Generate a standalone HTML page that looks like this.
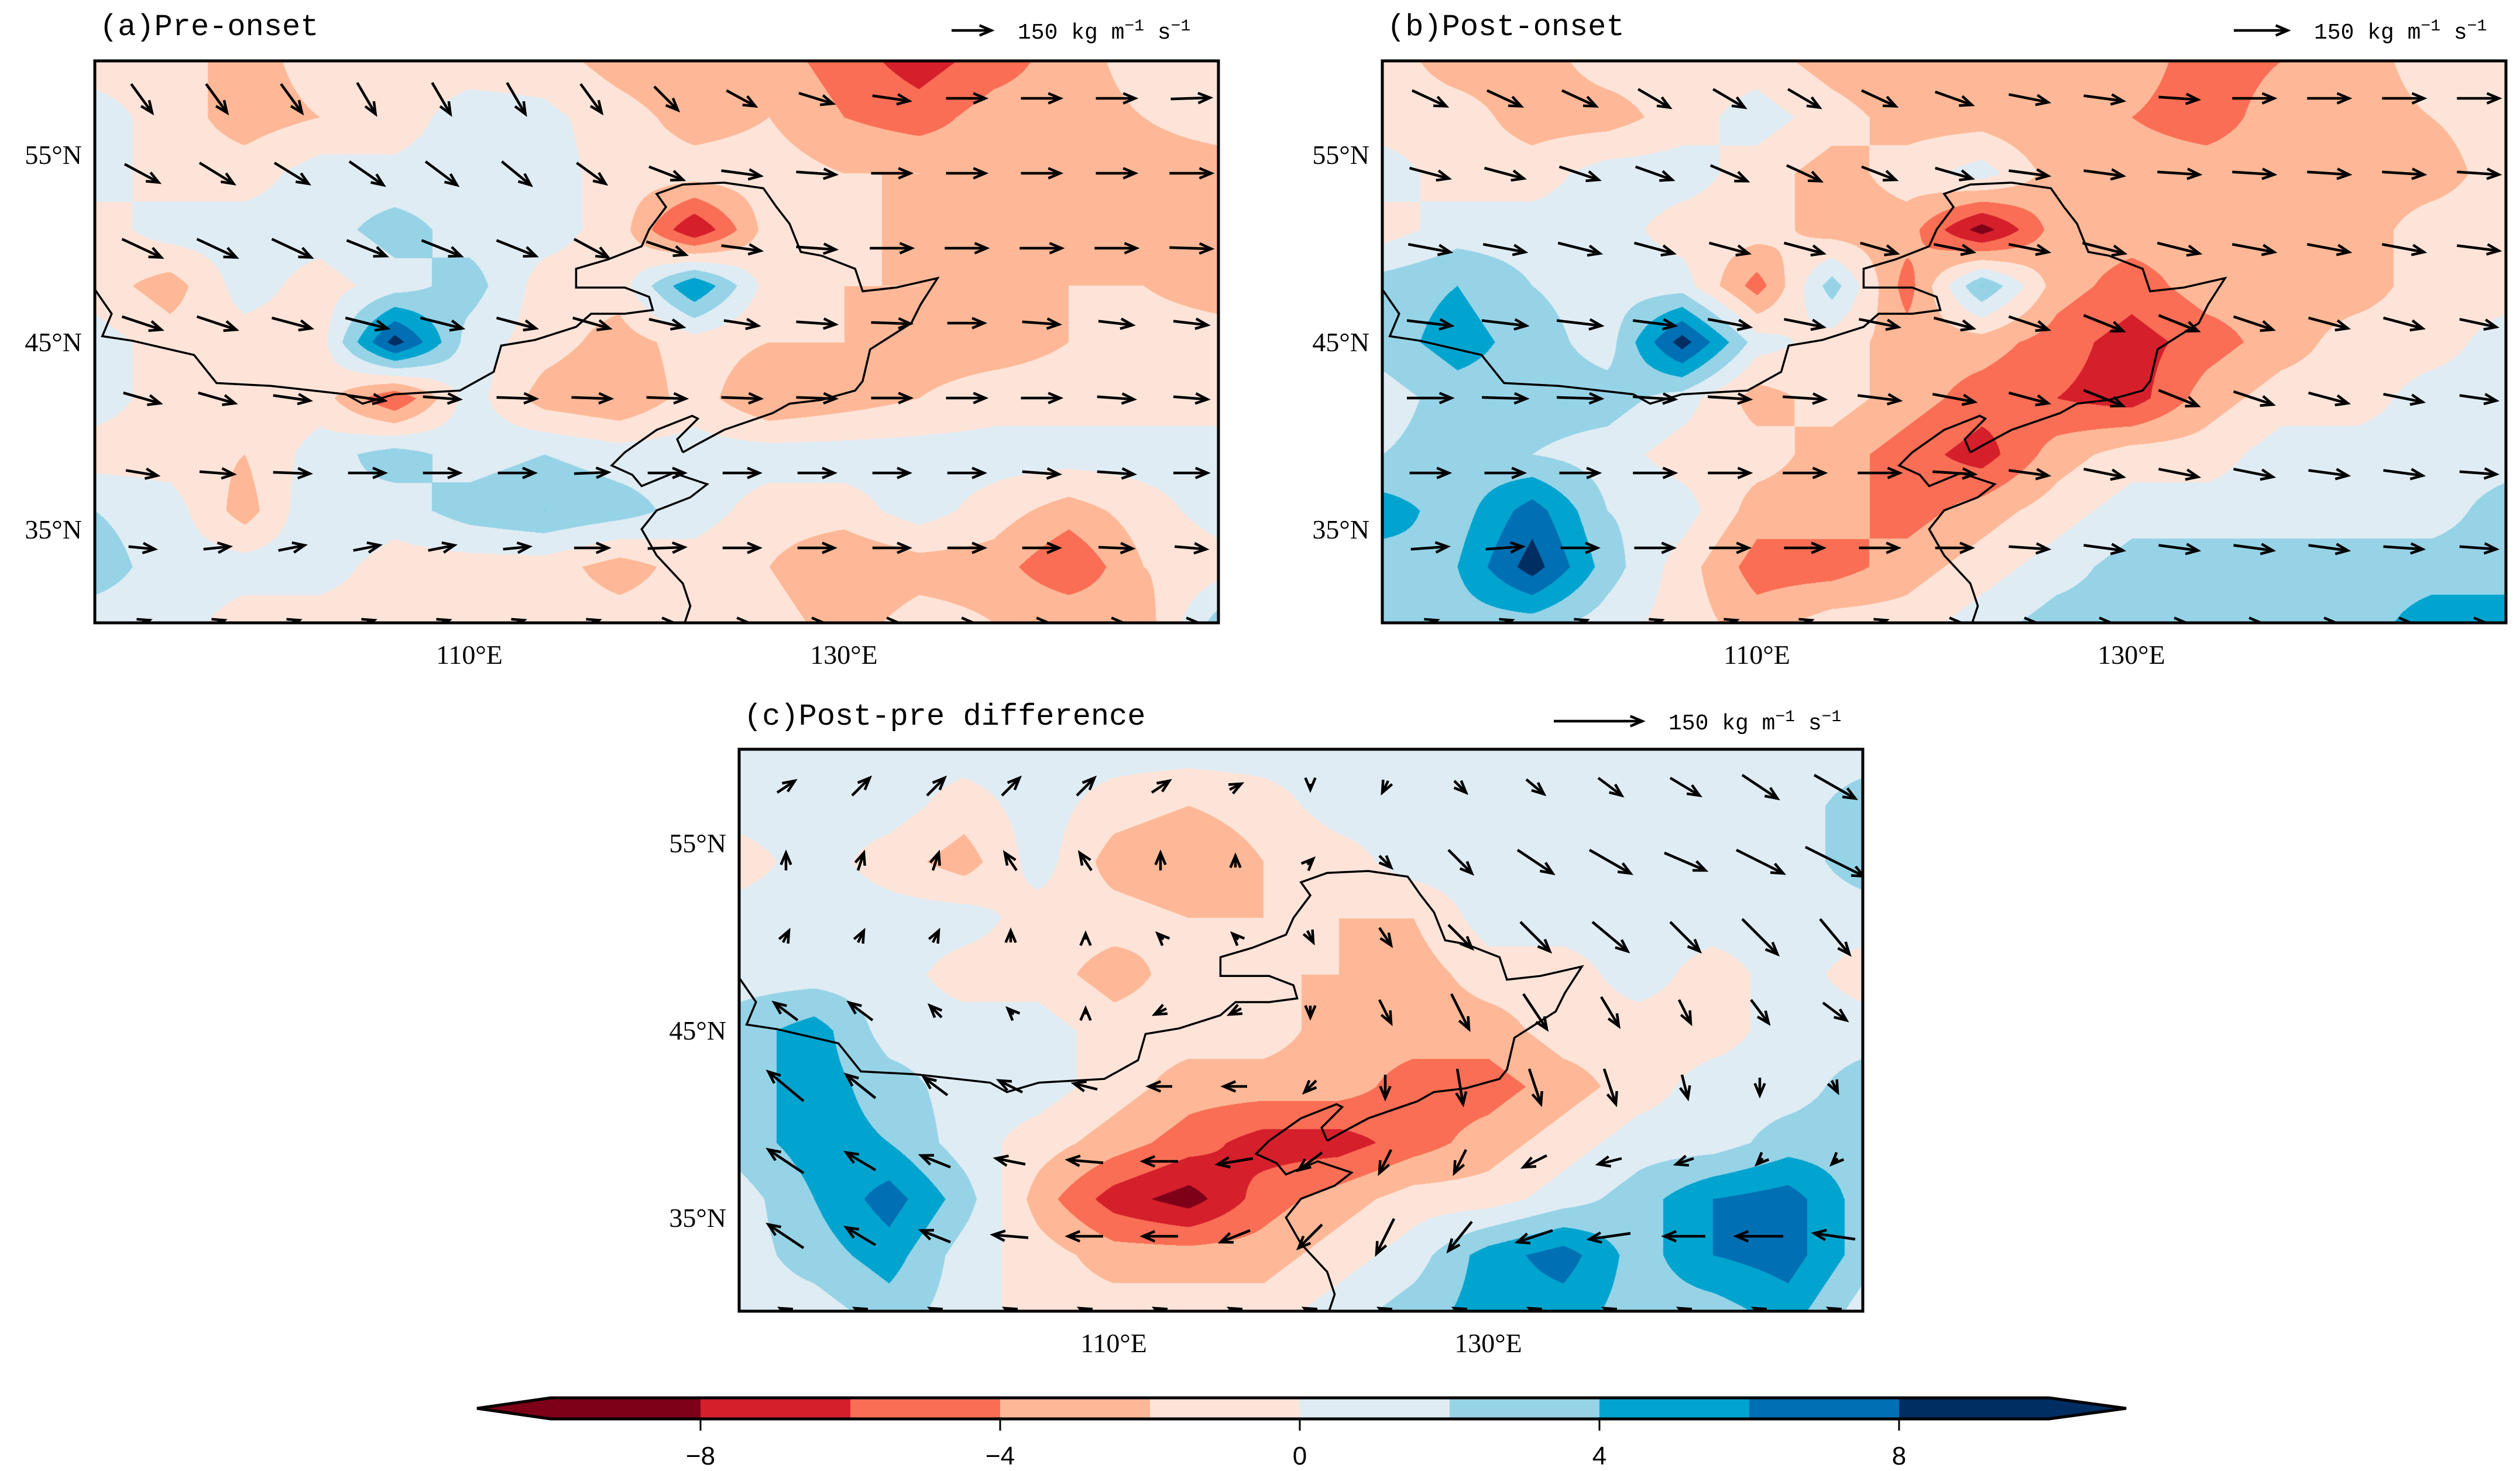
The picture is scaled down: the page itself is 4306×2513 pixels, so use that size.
<!DOCTYPE html>
<html><head><meta charset="utf-8">
<style>
html,body{margin:0;padding:0;background:#fff;}
#wrap{position:relative;width:4306px;height:2513px;overflow:hidden;background:#fff;}
canvas{position:absolute;}
svg{position:absolute;left:0;top:0;}
</style></head>
<body>
<div id="wrap">
<canvas id="cvA" width="1920" height="960" style="left:162px;top:104px"></canvas>
<canvas id="cvB" width="1920" height="960" style="left:2362px;top:104px"></canvas>
<canvas id="cvC" width="1920" height="960" style="left:1263px;top:1280px"></canvas>
<svg id="sv" width="4306" height="2513" xmlns="http://www.w3.org/2000/svg"></svg>
</div>
<script>
// ---------- data ----------
const gridLon=[90,94,98,102,106,110,114,118,122,126,130,134,138,142,146,150];
const gridLat=[60,57,54,51,48,45,42,39,36,33,30];
const fieldA=[
[-1,-1,-3,-1,-1,-1,-1,-3,-4,-3,-5,-7,-5,-3,-1,-1],
[1,-1,-3,-2,-1,1,0.5,-1,-3,-2,-4,-5,-3,-3,-2,-1],
[1,-1,-1,1,0.5,1,1,-1,-1,-1,-2,-2,-3,-3,-3,-3],
[-1,1,1,1,3,1,1,-1,-8,-1,-1,-3,-3,-3,-3,-3],
[-1,-3,1,-1,1,3,-1,-1,6,-1,-2,-2,-3,-2,-2,-3],
[1,-1,-1,-1,9,1,-1,-3,-1,-2,-2,-3,-3,-2,-1,-1],
[1,-1,-2,-1,-6,1,-3,-4,-1,-4,-3,-2,-1,-1,-1,-1],
[-1,-1,-2,1,3,1,2,1,1,1,1,1,1,1,1,1],
[2,1,-3,2,1,3,4,3,1,-1,-1,1,-1,-3,-1,1],
[3,1,1,1,-1,-1,-1,-3,-1,-2,-4,-3,-3,-6,-2,-1],
[1,1,-1,-1,-1,-1,-1,-1,-1,-1,-3,-1,-2,-2,-3,3]];
const fieldB=[
[-1,-3,-3,-1,-1,-1,-3,-4,-3,-3,-3,-5,-4,-3,-1,-1],
[-1,-1,-3,-3,-1,1,-1,-3,-3,-4,-4,-5,-3,-3,-2,-1],
[1,-1,-1,1,1,-1,-3,-1,1,-3,-3,-3,-3,-3,-3,-1],
[-1,1,1,1,-1,-1,-3,-3,-9,-3,-3,-3,-3,-3,-1,-1],
[3,4,2,1,1,-5,3,-5,4,-3,-5,-3,-3,-3,-1,-1],
[3,5,3,1,9,1,-1,-3,-3,-5,-7,-5,-3,-1,-1,1],
[1,3,3,3,1,-3,-1,-3,-5,-6,-7,-3,-1,-1,1,1],
[2,3,2,1,-1,-1,-3,-5,-7,-3,-1,-1,1,1,1,1],
[5,3,7,2,1,-3,-3,-5,-3,-1,1,1,1,1,1,3],
[3,4,9,3,-1,-5,-5,-3,-1,1,3,3,3,3,3,3],
[2,3,3,1,-1,-3,-1,-1,1,3,3,3,3,3,5,5]];
const fieldC=[
[1,1,1,1,1,1,1,1,1,1,1,1,1,1,1,1],
[1,1,1,-1,1,-1,-2,-1,1,1,1,1,1,1,1,3],
[-1,1,-1,-3,1,-3,-4,-2,-1,1,1,1,1,1,1,3],
[1,1,1,1,-1,-1,-2,-2,-2,-2,1,1,1,1,1,1],
[1,1,1,-1,-1,-3,-1,-2,-2,-3,-1,-1,1,-1,1,-1],
[3,5,1,1,1,-1,-1,-1,-3,-3,-3,-1,-1,-1,1,1],
[3,5,3,1,1,-1,-3,-3,-3,-5,-5,-3,-1,1,1,3],
[3,5,4,1,-1,-3,-5,-7,-7,-5,-3,-1,1,1,3,3],
[1,4,7,3,-3,-7,-9,-5,-3,-1,-1,1,3,6,7,3],
[1,3,5,1,-1,-3,-3,-3,-1,1,5,7,3,6,7,3],
[1,1,3,1,-1,-1,-1,-1,1,3,5,5,3,3,5,1]];
const vecLon=[92.5,96.5,100.5,104.5,108.5,112.5,116.5,120.5,124.5,128.5,132.5,136.5,140.5,144.5,148.5];
const vecLat=[58,54,50,46,42,38,34,30];
const uA=[
[80,80,80,70,70,70,80,90,110,130,140,150,150,150,150],
[130,130,130,130,120,110,110,130,150,150,150,150,150,150,160],
[150,150,150,150,150,150,130,150,150,150,160,160,160,160,160],
[150,150,150,160,160,150,140,130,130,150,150,140,140,130,130],
[140,140,140,140,140,150,150,150,150,150,150,150,150,140,130],
[120,130,140,140,140,140,130,140,140,140,140,140,140,140,130],
[100,100,100,100,100,100,130,140,140,140,140,140,140,130,120],
[60,60,60,60,60,60,60,60,60,60,60,60,60,60,60]];
const vA=[
[-110,-110,-110,-120,-120,-120,-110,-90,-60,-40,-20,0,0,0,5],
[-70,-80,-80,-90,-90,-90,-80,-50,-20,-10,0,0,0,0,0],
[-70,-70,-70,-60,-60,-60,-70,-50,-20,-10,0,0,0,0,-5],
[-50,-50,-40,-40,-40,-40,-40,-30,-20,-10,-5,0,-10,-15,-15],
[-40,-40,-20,-20,-10,-5,-5,-5,-5,-5,0,0,0,-10,-10],
[-20,-10,-5,0,0,0,5,0,0,0,0,0,-10,-10,0],
[-10,10,20,20,20,10,0,5,0,0,0,0,0,-5,-10],
[20,20,20,20,20,20,20,0,0,0,0,0,0,0,0]];
const uB=[
[130,130,130,120,120,120,130,140,150,150,150,160,160,160,160],
[150,150,150,140,140,130,130,140,150,150,160,160,160,160,160],
[160,160,160,150,150,150,140,150,150,160,160,160,160,160,160],
[170,170,170,160,160,150,150,150,150,150,150,150,150,150,140],
[170,170,170,160,160,160,160,160,150,150,150,150,150,150,140],
[150,150,150,160,160,160,160,160,150,150,150,150,150,150,140],
[140,140,140,150,150,150,150,140,150,150,150,150,150,150,140],
[60,60,60,60,60,60,60,60,60,60,60,60,60,60,60]];
const vB=[
[-60,-60,-60,-70,-70,-70,-60,-50,-30,-20,-10,0,0,0,0],
[-40,-40,-50,-50,-60,-60,-50,-40,-20,-20,-10,-10,-10,-10,-10],
[-30,-30,-40,-40,-40,-40,-40,-30,-30,-40,-40,-30,-30,-30,-20],
[-20,-20,-20,-20,-30,-30,-30,-40,-50,-60,-60,-50,-40,-40,-30],
[0,-5,-5,-10,-10,-10,-20,-30,-40,-60,-60,-50,-40,-30,-20],
[0,0,0,0,0,0,0,-10,-20,-30,-30,-30,-20,-20,-10],
[10,10,0,0,0,0,0,0,-10,-20,-20,-20,-20,-10,-10],
[20,20,20,20,20,20,20,0,0,0,0,0,0,0,0]];
const uC=[
[30,30,30,30,30,30,20,0,-10,20,30,40,50,60,70],
[0,10,10,-20,-20,0,0,10,20,40,60,70,70,80,100],
[10,10,10,0,0,-10,-10,10,20,40,50,60,50,60,50],
[-40,-40,-20,-10,0,-20,-20,0,20,30,40,30,20,30,40],
[-60,-50,-40,-40,-40,-40,-40,-20,0,10,20,20,10,0,10],
[-60,-50,-50,-50,-60,-60,-60,-40,-20,-20,-40,-40,-30,-10,-10],
[-60,-50,-50,-60,-60,-60,-50,-40,-30,-40,-60,-70,-70,-80,-70],
[-20,-20,-20,-20,-20,-20,-20,-20,-20,-20,-20,-20,-20,-20,-20]];
const vC=[
[20,30,30,30,30,20,10,-10,-20,-20,-25,-30,-30,-40,-40],
[30,30,30,30,30,30,20,10,-20,-40,-40,-40,-30,-40,-50],
[20,20,20,20,10,10,10,-20,-30,-40,-50,-50,-50,-60,-60],
[30,30,20,10,10,-10,-10,-20,-40,-60,-60,-50,-40,-40,-30],
[50,40,30,20,10,0,0,-20,-40,-60,-60,-60,-40,-30,-20],
[40,30,20,10,5,0,-10,-30,-40,-40,-20,-10,-10,-10,-10],
[40,30,20,5,0,0,-20,-40,-60,-50,-20,-10,0,0,10],
[10,10,10,10,10,10,10,10,10,10,10,10,10,10,10]];
const borderLon=[90.0,90.9,90.4,92.0,95.3,96.5,99.4,103.4,104.3,106.0,109.5,111.3,111.7,113.5,115.7,116.5,118.3,119.8,119.6,118.3,115.7,115.7,117.4,119.2,119.6,120.5,120.0,121.4,123.6,125.7,126.4,127.1,127.7,128.8,130.6,131.0,132.8,135.0,134.1,133.6,131.4,131.0,130.6,128.8,127.1,126.2,123.6,122.2,121.4];
const borderLat=[47.8,46.5,45.3,45.06,44.3,42.8,42.65,42.2,41.7,42.2,42.4,43.4,44.8,45.1,45.8,46.5,46.5,46.7,47.4,47.9,47.9,48.9,49.4,50.1,51.0,52.2,52.9,53.4,53.5,53.2,52.2,51.3,49.8,49.6,48.9,47.7,47.9,48.4,47.0,46.0,44.6,42.9,42.4,41.9,41.7,41.2,40.3,39.55,39.1];
const coastLon=[121.4,121.1,122.2,121.9,120.0,118.3,117.6,118.7,119.2,120.9,122.7,121.8,120.0,119.2,120.0,121.4,121.8,121.4];
const coastLat=[39.1,39.8,40.9,41.05,40.3,39.1,38.4,37.9,37.3,38.0,37.4,36.7,36.0,35.0,33.6,32.1,30.9,29.7];
const cbarTicks=[-8,-4,0,4,8];
const COLORS=['#7d0018','#d51f2b','#fa6e55','#feb897','#fee4d8','#dfecf4','#96d3e7','#00a4cf','#006fb4','#002d62'];

// ---------- helpers ----------
const NS='http://www.w3.org/2000/svg';
const sv=document.getElementById('sv');
function mk(tag,attrs,parent){const e=document.createElementNS(NS,tag);for(const k in attrs)e.setAttribute(k,attrs[k]);(parent||sv).appendChild(e);return e;}
const PX=32;
function xOf(box,lon){return box.x+(lon-90)*PX;}
function yOf(box,lat){return box.y+(60-lat)*PX;}

function fieldAt(F,lon,lat){
  let fi=(lon-gridLon[0])/(gridLon[1]-gridLon[0]);
  let fj=(gridLat[0]-lat)/(gridLat[0]-gridLat[1]);
  fi=Math.max(0,Math.min(gridLon.length-1.0001,fi));
  fj=Math.max(0,Math.min(gridLat.length-1.0001,fj));
  const i=Math.floor(fi),j=Math.floor(fj),a=fi-i,b=fj-j;
  return F[j][i]*(1-a)*(1-b)+F[j][i+1]*a*(1-b)+F[j+1][i]*(1-a)*b+F[j+1][i+1]*a*b;
}
function hex(c){return [parseInt(c.substr(1,2),16),parseInt(c.substr(3,2),16),parseInt(c.substr(5,2),16)];}
const RGB=COLORS.map(hex);
function drawField(id,F){
  const cv=document.getElementById(id),ctx=cv.getContext('2d');
  const img=ctx.createImageData(1920,960),d=img.data;
  for(let y=0;y<960;y++){const lat=60-y/PX;for(let x=0;x<1920;x++){
    const v=fieldAt(F,90+x/PX,lat);
    let k=Math.floor((v+10)/2);k=Math.max(0,Math.min(9,k));
    const c=RGB[k],p=(y*1920+x)*4;d[p]=c[0];d[p+1]=c[1];d[p+2]=c[2];d[p+3]=255;}}
  ctx.putImageData(img,0,0);
}
drawField('cvA',fieldA);drawField('cvB',fieldB);drawField('cvC',fieldC);

function arrow(g,x1,y1,x2,y2,head){
  const ang=Math.atan2(y2-y1,x2-x1);
  const p=`M${x1},${y1}L${x2},${y2}M${x2-head*Math.cos(ang-0.4)},${y2-head*Math.sin(ang-0.4)}L${x2},${y2}L${x2-head*Math.cos(ang+0.4)},${y2-head*Math.sin(ang+0.4)}`;
  return mk('path',{d:p,fill:'none',stroke:'#000','stroke-width':4.5,'stroke-linejoin':'miter'},g);
}

function panel(key,box,U,V,scale,title,legX,legLen,legY,titleY){
  const clipId='clip'+key;
  const defs=mk('defs',{});
  const cp=mk('clipPath',{id:clipId},defs);
  mk('rect',{x:box.x,y:box.y,width:1920,height:960},cp);
  const g=mk('g',{'clip-path':`url(#${clipId})`});
  
  
  let pts=borderLon.map((lo,i)=>xOf(box,lo)+','+yOf(box,borderLat[i])).join(' ');
  const bl=mk('polyline',{points:pts,fill:'none',stroke:'#000','stroke-width':3.5},g);
  
  
  pts=coastLon.map((lo,i)=>xOf(box,lo)+','+yOf(box,coastLat[i])).join(' ');
  const cl=mk('polyline',{points:pts,fill:'none',stroke:'#000','stroke-width':3.5},g);
  
  
  const vg=mk('g',{},g);
  
  
  for(let r=0;r<vecLat.length;r++)for(let c=0;c<vecLon.length;c++){
    const u=U[r][c],v=V[r][c];
    const cx=xOf(box,vecLon[c]),cy=yOf(box,vecLat[r]);
    const dx=u*scale,dy=-v*scale;
    const a=arrow(vg,cx-dx/2,cy-dy/2,cx+dx/2,cy+dy/2,22);
    
    
  }
  const fr=mk('rect',{x:box.x,y:box.y,width:1920,height:960,fill:'none',stroke:'#000','stroke-width':5});
  
  
  [55,45,35].forEach(lat=>{
    const t=mk('text',{x:box.x-22,y:yOf(box,lat)+16,'text-anchor':'end','font-family':'Liberation Serif, serif','font-size':46});
    t.textContent=lat+'°N';
    
    
  });
  [110,130].forEach(lon=>{
    const t=mk('text',{x:xOf(box,lon),y:box.y+1030,'text-anchor':'middle','font-family':'Liberation Serif, serif','font-size':46});
    t.textContent=lon+'°E';
    
    
  });
  const tt=mk('text',{x:box.x+8,y:titleY,'font-family':'Liberation Mono, monospace','font-size':52});
  tt.textContent=title;
  
  
  const ra=arrow(sv,legX,legY,legX+legLen,legY,22);
  
  
  const lt=mk('text',{x:legX+legLen+45,y:legY+14,'font-family':'Liberation Mono, monospace','font-size':38});
  lt.innerHTML='150 kg m<tspan dy="-14" font-size="28">−1</tspan><tspan dy="14"> s</tspan><tspan dy="-14" font-size="28">−1</tspan>';
  
  
}
panel('a',{x:162,y:104},uA,vA,67/150,'(a)Pre-onset',1626,68,52,60);
panel('b',{x:2362,y:104},uB,vB,67/150,'(b)Post-onset',3817,92,52,60);
panel('c',{x:1263,y:1280},uC,vC,1.0,'(c)Post-pre difference',2655,151,1232,1238);

// ---------- colorbar ----------
const cb=mk('g',{});


const cbX0=941,seg=256,cbY=2388,cbH=36;
function cbx(val){return cbX0+(val+10)/2*seg;}
for(let k=0;k<10;k++){
  let x0=cbx(-10+2*k),x1=cbx(-8+2*k);
  let e;
  if(k===0) e=mk('polygon',{points:`${x1},${cbY} ${x0},${cbY} ${815},${cbY+cbH/2} ${x0},${cbY+cbH} ${x1},${cbY+cbH}`,fill:COLORS[k]},cb);
  else if(k===9) e=mk('polygon',{points:`${x0},${cbY} ${x1},${cbY} ${3633},${cbY+cbH/2} ${x1},${cbY+cbH} ${x0},${cbY+cbH}`,fill:COLORS[k]},cb);
  else e=mk('rect',{x:x0,y:cbY,width:seg+0.5,height:cbH,fill:COLORS[k]},cb);
  
  
}
const ol=mk('polygon',{points:`815,${cbY+cbH/2} ${cbX0},${cbY} ${cbx(10)},${cbY} 3633,${cbY+cbH/2} ${cbx(10)},${cbY+cbH} ${cbX0},${cbY+cbH}`,fill:'none',stroke:'#000','stroke-width':5},cb);


cbarTicks.forEach(v=>{
  const tl=mk('line',{x1:cbx(v),x2:cbx(v),y1:cbY+cbH,y2:cbY+cbH+20,stroke:'#000','stroke-width':3},cb);
  
  
  const t=mk('text',{x:cbx(v),y:2502,'text-anchor':'middle','font-family':'Liberation Sans, sans-serif','font-size':44},cb);
  t.textContent=(v<0?'−':'')+Math.abs(v);
  
  
});
</script>
</body></html>
